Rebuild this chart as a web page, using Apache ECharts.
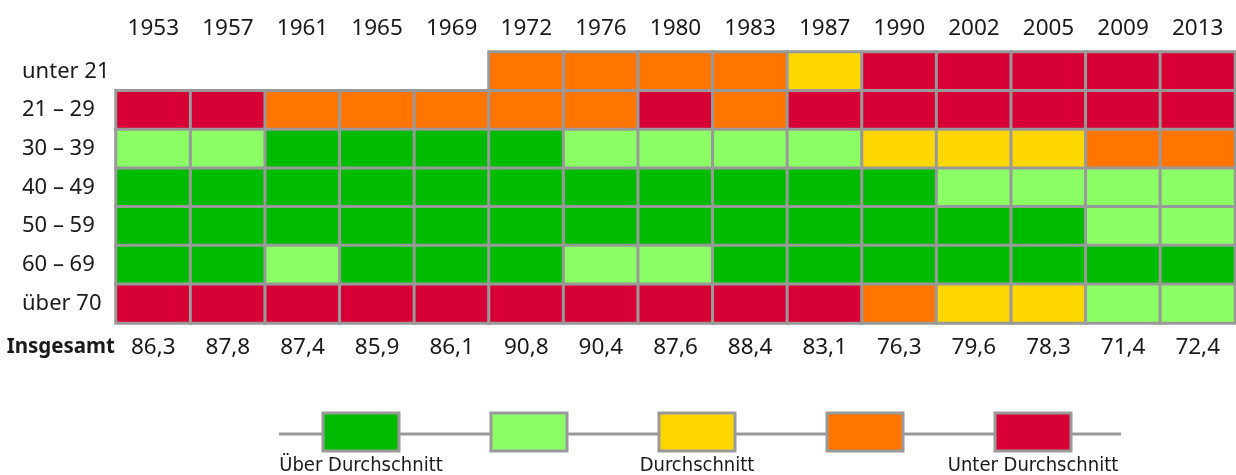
<!DOCTYPE html>
<html>
<head>
<meta charset="UTF-8">
<title>Wahlbeteiligung nach Alter</title>
<script src="https://cdn.jsdelivr.net/npm/echarts@6/dist/echarts.min.js"></script>
<style>
  html, body { margin: 0; padding: 0; background: #fff; }
  #chart { width: 1236px; height: 475px; }
</style>
</head>
<body>
<div id="chart"></div>
<script>
// years, age groups and totals
const years = ['1953', '1957', '1961', '1965', '1969', '1972', '1976', '1980', '1983', '1987', '1990', '2002', '2005', '2009', '2013'];
const ageGroups = ['unter 21', '21 – 29', '30 – 39', '40 – 49', '50 – 59', '60 – 69', 'über 70'];
const totals = ['86,3', '87,8', '87,4', '85,9', '86,1', '90,8', '90,4', '87,6', '88,4', '83,1', '76,3', '79,6', '78,3', '71,4', '72,4'];

// 1 = über Durchschnitt ... 5 = unter Durchschnitt, null = keine Angabe
const levels = [
  [null, null, null, null, null, 4, 4, 4, 4, 3, 5, 5, 5, 5, 5],
  [5, 5, 4, 4, 4, 4, 4, 5, 4, 5, 5, 5, 5, 5, 5],
  [2, 2, 1, 1, 1, 1, 2, 2, 2, 2, 3, 3, 3, 4, 4],
  [1, 1, 1, 1, 1, 1, 1, 1, 1, 1, 1, 2, 2, 2, 2],
  [1, 1, 1, 1, 1, 1, 1, 1, 1, 1, 1, 1, 1, 2, 2],
  [1, 1, 2, 1, 1, 1, 2, 2, 1, 1, 1, 1, 1, 1, 1],
  [5, 5, 5, 5, 5, 5, 5, 5, 5, 5, 4, 3, 3, 2, 2]
];

const levelColors = ['#00bb00', '#8cff66', '#ffd700', '#ff7500', '#d70035'];
const legendLabels = ['Über Durchschnitt', '', 'Durchschnitt', '', 'Unter Durchschnitt'];

const cells = [];
levels.forEach((row, r) => {
  row.forEach((v, c) => {
    if (v != null) cells.push([c, r, v]);
  });
});

const textFont = '"Noto Sans", "Open Sans", sans-serif';
const border = '#999999';

// legend: boxes on a grey line
const legendGraphics = [{
  type: 'line',
  shape: { x1: 279, y1: 434, x2: 1121, y2: 434 },
  style: { stroke: border, lineWidth: 3 }
}];
levelColors.forEach((col, i) => {
  const cx = 361 + i * 168;
  legendGraphics.push({
    type: 'rect',
    shape: { x: cx - 38, y: 413, width: 76, height: 38 },
    style: { fill: col, stroke: border, lineWidth: 3 }
  });
  if (legendLabels[i]) {
    legendGraphics.push({
      type: 'text',
      x: cx, y: 456,
      style: {
        text: legendLabels[i], fill: '#1a1a1a', align: 'center', verticalAlign: 'top',
        font: '20px "DejaVu Sans Condensed", "Liberation Sans Narrow", sans-serif'
      }
    });
  }
});

const chart = echarts.init(document.getElementById('chart'));
chart.setOption({
  animation: false,
  grid: { left: 116, right: 1, top: 52, height: 271 },
  xAxis: [{
    type: 'category',
    data: years,
    position: 'top',
    axisLine: { show: false },
    axisTick: { show: false },
    splitLine: { show: false },
    axisLabel: { margin: 12, fontSize: 22.5, color: '#1a1a1a', fontFamily: textFont }
  }, {
    type: 'category',
    data: totals,
    position: 'bottom',
    axisLine: { show: false },
    axisTick: { show: false },
    axisLabel: { margin: 13, fontSize: 22.5, color: '#1a1a1a', fontFamily: textFont },
    name: 'Insgesamt',
    nameLocation: 'start',
    nameGap: 1,
    nameTextStyle: {
      fontSize: 20.5, fontWeight: 'bold', color: '#1a1a1a', fontFamily: textFont,
      align: 'right', verticalAlign: 'top', padding: [14, 0, 0, 0]
    }
  }],
  yAxis: {
    type: 'category',
    data: ageGroups,
    inverse: true,
    axisLine: { show: false },
    axisTick: { show: false },
    splitLine: { show: false },
    axisLabel: {
      align: 'left', margin: 94, fontSize: 22, color: '#1a1a1a', fontFamily: textFont
    }
  },
  visualMap: {
    type: 'piecewise',
    show: false,
    dimension: 2,
    pieces: levelColors.map((col, i) => ({ value: i + 1, color: col }))
  },
  series: [{
    type: 'heatmap',
    data: cells,
    itemStyle: { borderColor: border, borderWidth: 3 },
    emphasis: { disabled: true }
  }],
  graphic: legendGraphics
});
</script>
</body>
</html>
